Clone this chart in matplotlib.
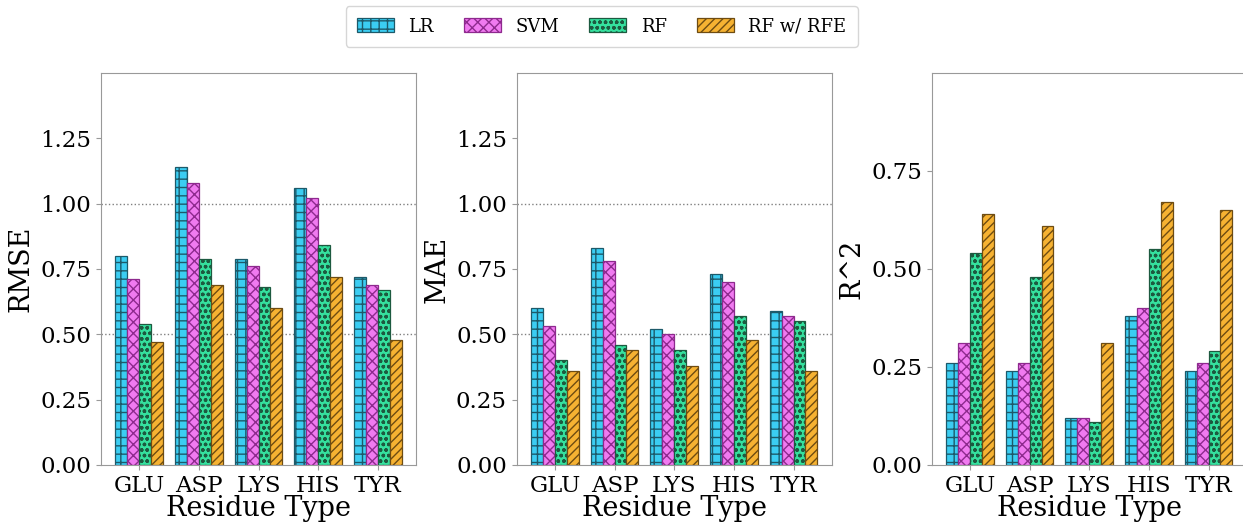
import numpy as np
import matplotlib
matplotlib.use("Agg")
import matplotlib.pyplot as plt

residues = ["GLU", "ASP", "LYS", "HIS", "TYR"]
models = ["LR", "SVM", "RF", "RF w/ RFE"]

rmse_lr = [0.80, 1.14, 0.79, 1.06, 0.72]
rmse_svm = [0.71, 1.08, 0.76, 1.02, 0.69]
rmse_rf = [0.54, 0.79, 0.68, 0.84, 0.67]
rmse_rfe = [0.47, 0.69, 0.60, 0.72, 0.48]

mae_lr = [0.60, 0.83, 0.52, 0.73, 0.59]
mae_svm = [0.53, 0.78, 0.50, 0.70, 0.57]
mae_rf = [0.40, 0.46, 0.44, 0.57, 0.55]
mae_rfe = [0.36, 0.44, 0.38, 0.48, 0.36]

r2_lr = [0.26, 0.24, 0.12, 0.38, 0.24]
r2_svm = [0.31, 0.26, 0.12, 0.40, 0.26]
r2_rf = [0.54, 0.48, 0.11, 0.55, 0.29]
r2_rfe = [0.64, 0.61, 0.31, 0.67, 0.65]

fills = ["#3bcdf2", "#f07af0", "#35e09e", "#f6b232"]
edges = ["#1d5a6a", "#8e2a8e", "#1d5a40", "#6e4c12"]
hatches = ["++", "xxx", "ooo", "////"]

plt.rcParams["font.family"] = ["DejaVu Serif"]
plt.rcParams["hatch.linewidth"] = 1.0

fig = plt.figure(figsize=(12.43, 5.25), dpi=100)
lefts = [0.0813, 0.4157, 0.7496]
panels = [
    ("RMSE", [rmse_lr, rmse_svm, rmse_rf, rmse_rfe], 1.5, [0, 0.25, 0.5, 0.75, 1.0, 1.25], True),
    ("MAE", [mae_lr, mae_svm, mae_rf, mae_rfe], 1.5, [0, 0.25, 0.5, 0.75, 1.0, 1.25], True),
    ("R^2", [r2_lr, r2_svm, r2_rf, r2_rfe], 1.0, [0, 0.25, 0.5, 0.75], False),
]
x = np.arange(len(residues))
w = 0.2
handles = []
for left, (label, series, ymax, yt, lines) in zip(lefts, panels):
    ax = fig.add_axes([left, 0.1143, 0.2534, 0.7467])
    if lines:
        for v in (0.5, 1.0):
            ax.axhline(v, color="gray", linestyle=":", linewidth=1, zorder=0)
    hs = []
    for j, vals in enumerate(series):
        b = ax.bar(x + (j - 1.5) * w, vals, w, color=fills[j], edgecolor=edges[j],
                   hatch=hatches[j], linewidth=0.9, label=models[j], zorder=2)
        hs.append(b)
    handles = hs
    ax.set_ylim(0, ymax)
    ax.set_yticks(yt)
    ax.set_yticklabels(["%.2f" % t for t in yt])
    ax.set_xticks(x)
    ax.set_xticklabels(residues)
    ax.tick_params(labelsize=16.5, colors="#999999", labelcolor="black", length=3.5)
    ax.set_ylabel(label, fontsize=19.5)
    ax.set_xlabel("Residue Type", fontsize=19.5, labelpad=-1)
    for s in ax.spines.values():
        s.set_color("#999999")

fig.legend(handles, models, loc="center", bbox_to_anchor=(0.484, 0.9495), ncol=4,
           fontsize=13, handlelength=2.05, handleheight=0.83, columnspacing=1.7,
           handletextpad=0.78, borderpad=0.62, frameon=True, edgecolor="#cccccc",
           fancybox=True)

fig.savefig("out.png", dpi=100)
